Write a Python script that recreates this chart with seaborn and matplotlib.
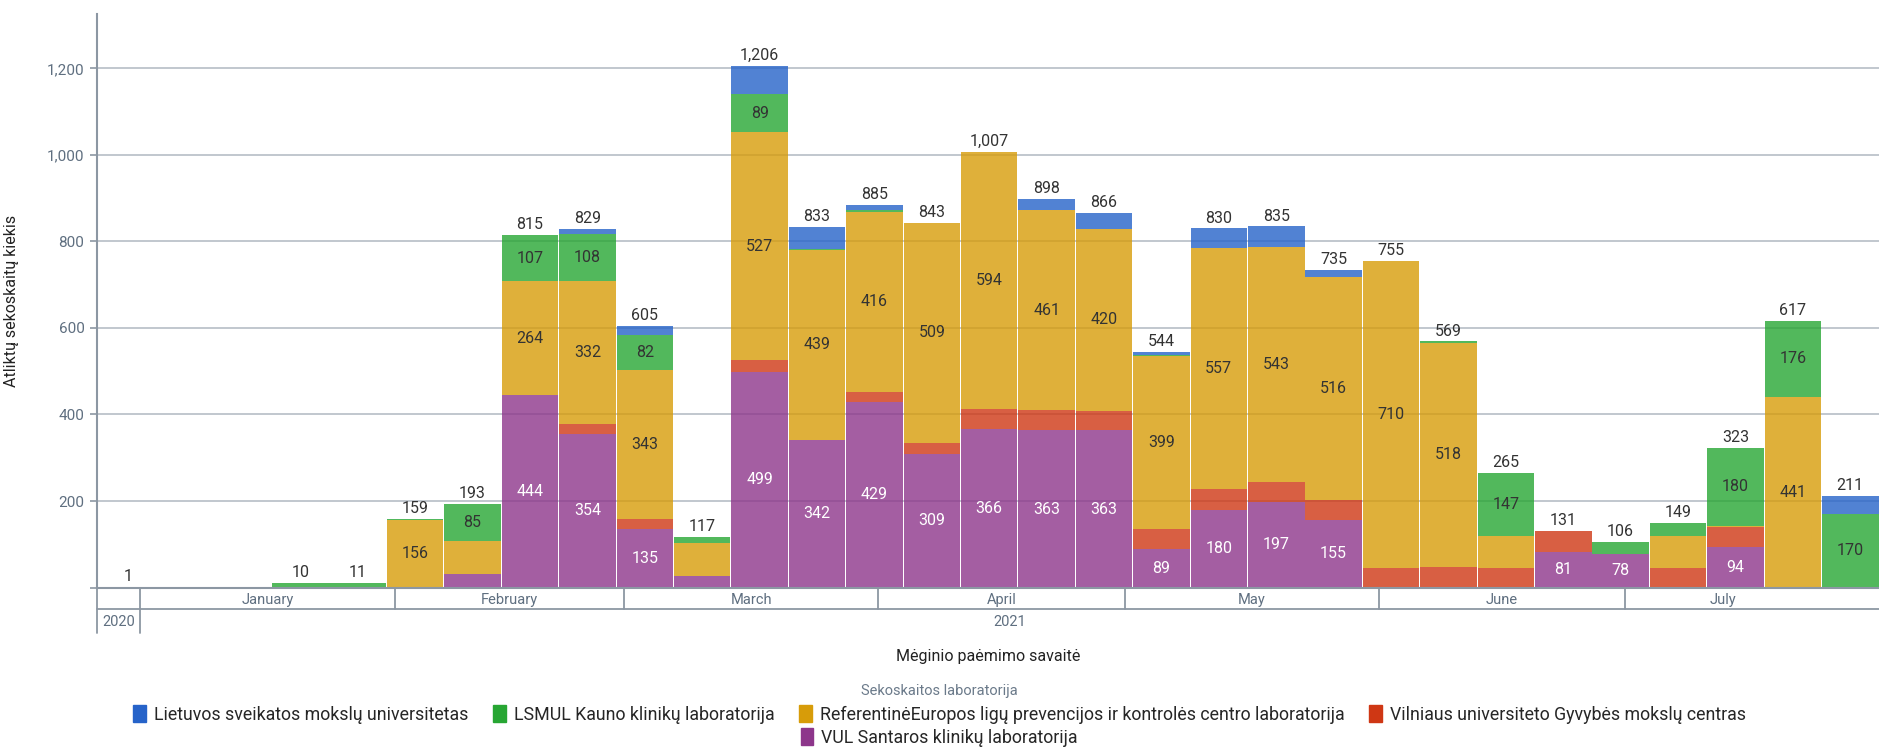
import numpy as np
import pandas as pd
import matplotlib.pyplot as plt
import matplotlib.transforms as mtransforms
from matplotlib.patches import Patch
import seaborn as sns

# Weekly sample collection (weeks start on Sunday)
week_start = pd.date_range('2020-12-27', periods=31, freq='7D')

labs = ['Lietuvos sveikatos mokslų universitetas',
        'LSMUL Kauno klinikų laboratorija',
        'ReferentinėEuropos ligų prevencijos ir kontrolės centro laboratorija',
        'Vilniaus universiteto Gyvybės mokslų centras',
        'VUL Santaros klinikų laboratorija']
lab_colors = ['#2663c9', '#27a633', '#d79c09', '#cf3714', '#8d368b']

lsmu = [0, 0, 0, 0, 0, 0, 0, 0, 12, 21, 0, 65, 50, 12, 0, 0, 26, 37, 6, 45, 48, 16, 0, 0, 0, 0, 0, 0, 0, 0, 41]
lsmul = [0, 0, 0, 10, 11, 3, 85, 107, 108, 82, 15, 89, 2, 4, 0, 0, 0, 0, 3, 0, 0, 0, 0, 3, 147, 0, 28, 29, 180, 176, 170]
referentine = [0, 0, 0, 0, 0, 156, 76, 264, 332, 343, 76, 527, 439, 416, 509, 594, 461, 420, 399, 557, 543, 516, 710, 518, 74, 0, 0, 74, 2, 441, 0]
vu_gmc = [0, 0, 0, 0, 0, 0, 0, 0, 23, 24, 0, 26, 0, 24, 25, 47, 48, 46, 47, 48, 47, 48, 45, 48, 44, 50, 0, 46, 47, 0, 0]
vul_santaros = [1, 0, 0, 0, 0, 0, 32, 444, 354, 135, 26, 499, 342, 429, 309, 366, 363, 363, 89, 180, 197, 155, 0, 0, 0, 81, 78, 0, 94, 0, 0]

month_names = ['January', 'February', 'March', 'April', 'May', 'June', 'July']
month_starts = pd.to_datetime(['2021-01-01', '2021-02-01', '2021-03-01', '2021-04-01',
                               '2021-05-01', '2021-06-01', '2021-07-01'])

origin = week_start[0]
week_day = np.array((week_start - origin).days, dtype=float)
series = [lsmu, lsmul, referentine, vu_gmc, vul_santaros]

rows = []
for lab, vals in zip(labs, series):
    for d, v in zip(week_day, vals):
        rows.append({'day': d + 3.5, 'lab': lab, 'n': v})
df = pd.DataFrame(rows)

sns.set_theme(style='white')
plt.rcParams['font.family'] = ['Roboto', 'DejaVu Sans']

fig = plt.figure(figsize=(18.79, 7.49), dpi=100)
ax = fig.add_axes([0.0516, 0.2156, 0.9484, 0.7652])

ax.set_axisbelow(True)
ax.yaxis.grid(True, color='#bcc3ca', linewidth=1.3)

sns.histplot(data=df, x='day', weights='n', hue='lab', hue_order=labs,
             palette=lab_colors, multiple='stack', binwidth=7,
             binrange=(week_day[0], week_day[-1] + 7), shrink=0.985,
             alpha=0.8, linewidth=0, edgecolor='none', legend=False, ax=ax)

xmin, xmax = -0.3, 217.0
ax.set_xlim(xmin, xmax)
ax.set_ylim(0, 1325)

# segment and total labels
stack_order = [vul_santaros, vu_gmc, referentine, lsmul, lsmu]
stack_txt = ['white', '#333333', '#333333', '#333333', '#333333']
base = np.zeros(len(week_day))
for vals, tc in zip(stack_order, stack_txt):
    vals = np.array(vals, dtype=float)
    for i, v in enumerate(vals):
        if v >= 78:
            ax.text(week_day[i] + 3.5, base[i] + v / 2, f'{int(v):,}', ha='center',
                    va='center', fontsize=11.5, color=tc)
    base += vals
for i, t in enumerate(base):
    if t > 0:
        ax.annotate(f'{int(t):,}', (week_day[i] + 3.5, t), xytext=(0, 2),
                    textcoords='offset points', ha='center', va='bottom',
                    fontsize=11.5, color='#333333')

# axes styling
for s in ['top', 'right']:
    ax.spines[s].set_visible(False)
for s in ['left', 'bottom']:
    ax.spines[s].set_color('#8c97a3')
    ax.spines[s].set_linewidth(1.5)
ax.set_yticks(np.arange(0, 1201, 200))
ax.set_yticklabels([''] + [f'{v:,}' for v in range(200, 1201, 200)])
ax.tick_params(axis='y', length=5, width=1.2, color='#8c97a3', pad=4,
               labelsize=11, labelcolor='#5f6f80', left=True)
ax.set_xticks([])
ax.set_xlabel('')
ax.set_ylabel('Atliktų sekoskaitų kiekis', fontsize=11.5, color='#222222', labelpad=20)

# two level date axis
trans = mtransforms.blended_transform_factory(ax.transData, ax.transAxes)
row1, row2 = -0.0377, -0.0794
line_kw = dict(color='#8c97a3', linewidth=1.3, transform=trans, clip_on=False)
ax.plot([xmin, xmax], [row1, row1], **line_kw)
ax.plot([xmin, xmin], [0, row2], **line_kw)
month_day = np.array((month_starts - origin).days, dtype=float)
for k, md in enumerate(month_day):
    ax.plot([md, md], [0, row2 if k == 0 else row1], **line_kw)
month_end = list(month_day[1:]) + [week_day[-1]]
for name, a, b in zip(month_names, month_day, month_end):
    ax.text((a + b) / 2, -0.021, name, transform=trans, ha='center', va='center',
            fontsize=10.5, color='#5f6f80')
ax.text((xmin + month_day[0]) / 2, -0.0605, '2020', transform=trans, ha='center',
        va='center', fontsize=10.5, color='#5f6f80')
ax.text((month_day[0] + xmax) / 2, -0.0605, '2021', transform=trans, ha='center',
        va='center', fontsize=10.5, color='#5f6f80')

ax.text(0.5, -0.1205, 'Mėginio paėmimo savaitė', transform=ax.transAxes,
        ha='center', va='center', fontsize=11.5, color='#222222')

# legend
fig.text(0.5, 0.078, 'Sekoskaitos laboratorija', ha='center', va='center',
         fontsize=10.5, color='#6b7a8a')
handles = [Patch(facecolor=c, edgecolor=c) for c in lab_colors]
leg_kw = dict(frameon=False, fontsize=12.8, handlelength=0.7, handleheight=1.1,
              handletextpad=0.45, columnspacing=1.4, borderpad=0, loc='center')
fig.legend(handles[:4], labs[:4], ncol=4, bbox_to_anchor=(0.5, 0.046), **leg_kw)
fig.legend(handles[4:], labs[4:], ncol=1, bbox_to_anchor=(0.5, 0.0155), **leg_kw)

fig.savefig('out.png', dpi=100)
